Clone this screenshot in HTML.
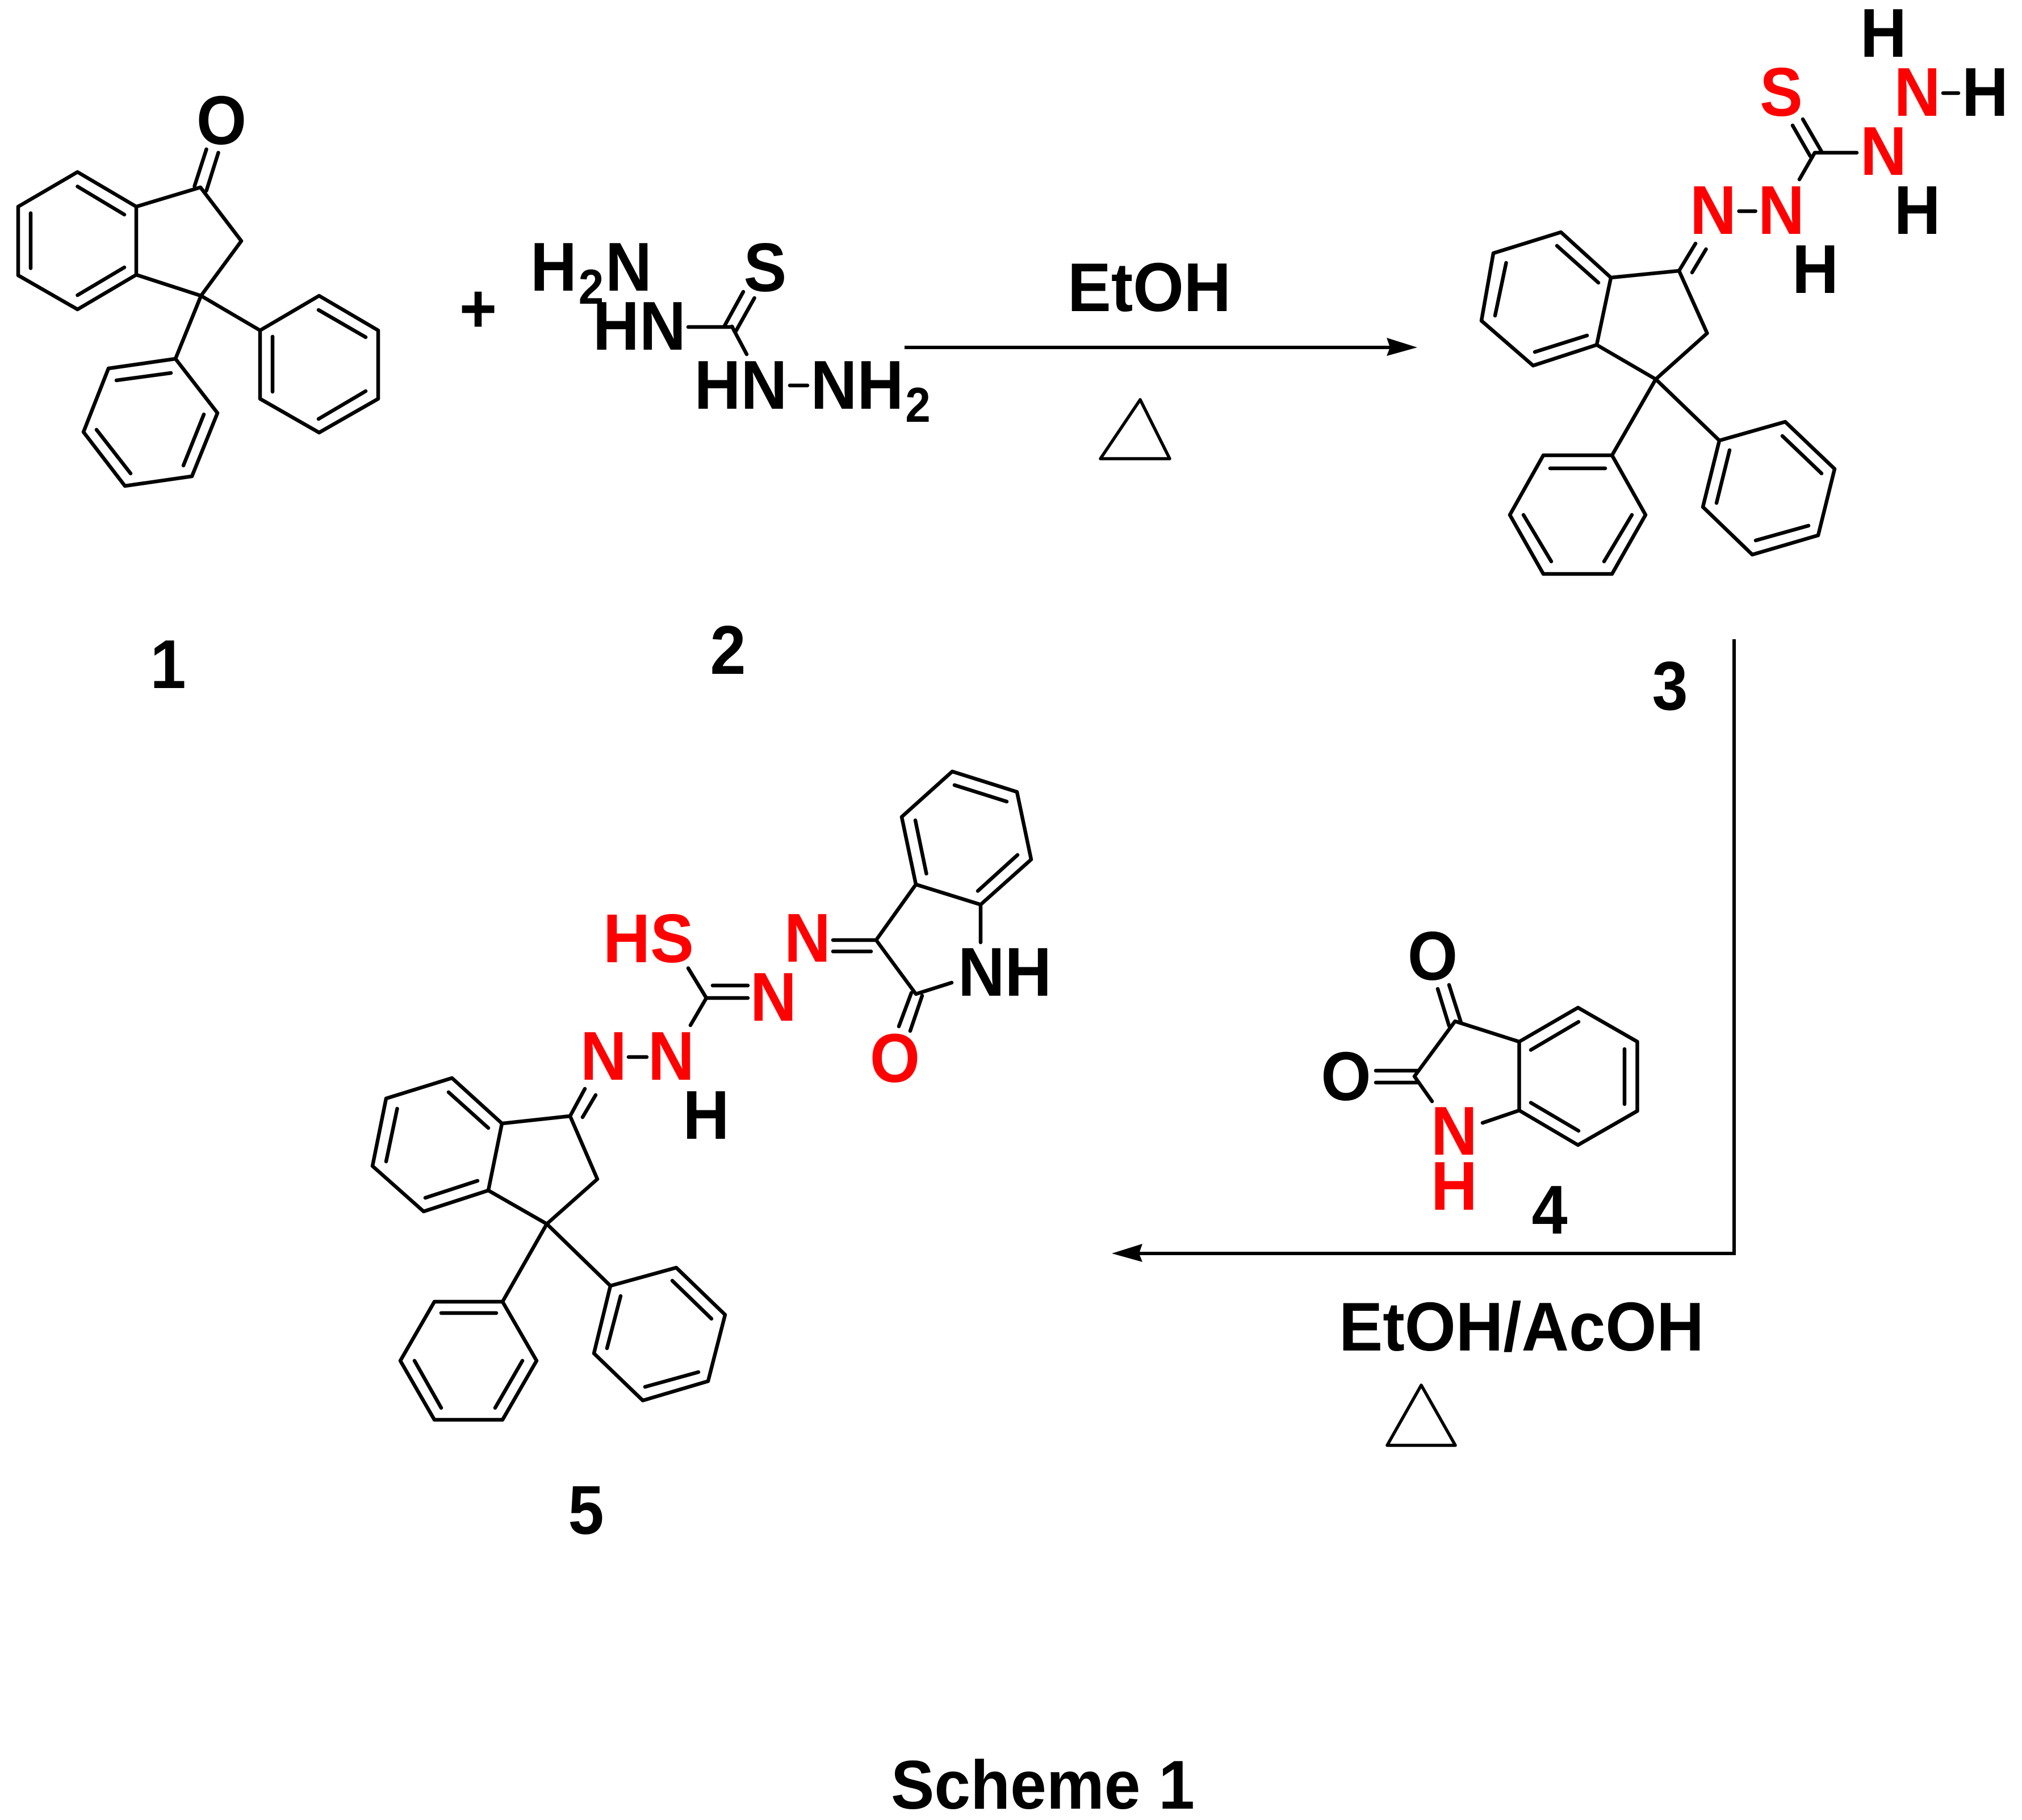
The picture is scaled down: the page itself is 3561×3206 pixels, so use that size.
<!DOCTYPE html>
<html><head><meta charset="utf-8"><title>Scheme 1</title>
<style>
html,body{margin:0;padding:0;background:#fff}
svg{display:block}
text{font-family:"Liberation Sans",Arial,sans-serif;font-weight:bold;font-size:122px;fill:#000}
.m{text-anchor:middle;transform-box:fill-box;transform-origin:center;transform:scaleX(.93)}
.r{fill:#f00}
.s{font-size:86px}
path{fill:none;stroke:#000;stroke-width:6.5;stroke-linecap:round;stroke-linejoin:round}
</style></head><body>
<svg xmlns="http://www.w3.org/2000/svg" width="3561" height="3206" viewBox="0 0 3561 3206">
<rect width="3561" height="3206" fill="#fff"/>

<!-- Compound 1 -->
<path d="M136.5 303L240 364L240 484L136.5 545L32 485L32 364Z M136.5 328.5L219 378 M54 375.5L54 472.5 M136.5 520L219 471
M240 364L353 330L425 424.5L354 521L240 484 M342.5 328L363.5 263 M363.5 336L384.5 269
M354 521L458 582 M354 521L309 632
M458 582L562 521L666 582L666 702.5L562 762L458 702.5Z M561 546L644 594 M480 593L480 690 M561 738L644 689
M309 632L191 649L147 761L220 856L338 839L383 727.5Z M205 670L301 657 M170 757L230 834 M323 820L359 730"/>
<text class="m" x="390" y="254">O</text>
<text class="m" x="842" y="585">+</text>
<text class="m" x="296" y="1212">1</text>

<!-- Compound 2 -->
<path d="M1212 576L1290 576 M1289 575L1315 624 M1276.5 573L1309 514 M1295 585L1328.6 525 M1391 679L1422 679" />
<text class="m" x="975" y="512">H</text><text class="m s" x="1041" y="535">2</text><text class="m" x="1107" y="512">N</text>
<text class="m" x="1347.5" y="513">S</text>
<text class="m" x="1126" y="616">HN</text>
<text class="m" x="1304.5" y="720">HN</text>
<text class="m" x="1509.5" y="720">NH</text><text class="m s" x="1616.5" y="743">2</text>
<text class="m" x="1282" y="1187">2</text>

<!-- Reaction arrow 1 -->
<path d="M1593 612L2450 612" style="stroke-width:6;stroke-linecap:butt"/>
<polygon points="2442,595 2496,612 2442,627 2448,612" fill="#000"/>
<text x="1880" y="548" textLength="288" lengthAdjust="spacingAndGlyphs">EtOH</text>
<path d="M2008 704L1938 808L2060 808Z" style="stroke-width:5.5"/>

<!-- Compound 3 -->
<path d="M2749 409L2837 489L2812 607.5L2700 644L2609 565L2630 446Z M2742 433L2815 498 M2652.5 463L2633 556 M2703 620L2795 591
M2837 489L2957 477L3006.5 587L2916 668L2812 607.5 M2957 477L2986 429 M2980 480L3004.5 439
M2916 668L2839 802 M2916 668L3028 776
M2839 802L2898 907L2839 1011L2718 1011L2659 907L2718 802Z M2730 825L2827 825 M2683 907L2732 989 M2874 907L2825 989
M3028 776L3144 743L3231 826L3202 943L3086 977L2999 893Z M3139 768L3208 834 M3185 926L3092 952 M3046 793L3023 886
M3196 269L3270 269 M3196 269L3169 316 M3188 275L3157 221 M3208 267L3175 210
M3062.6 372L3091.6 372 M3422 164L3449 164"/>
<text class="m" x="3317" y="100">H</text>
<text class="m r" x="3376.6" y="204">N</text>
<text class="m" x="3496" y="204">H</text>
<text class="m r" x="3137" y="204">S</text>
<text class="m r" x="3317" y="308">N</text>
<text class="m" x="3376.6" y="412">H</text>
<text class="m r" x="3017" y="412">N</text>
<text class="m r" x="3137" y="412">N</text>
<text class="m" x="3197" y="516">H</text>
<text class="m" x="2941" y="1250">3</text>

<!-- Reaction arrow 2 -->
<path d="M3054 1126L3054 2208L2005 2208" style="stroke-width:6;stroke-linecap:butt;stroke-linejoin:miter"/>
<polygon points="2012,2191 1958,2208 2012,2223 2006,2208" fill="#000"/>
<text x="2358" y="2379" textLength="643" lengthAdjust="spacingAndGlyphs">EtOH/AcOH</text>
<path d="M2503 2440L2443 2546L2563 2546Z" style="stroke-width:5.5"/>

<!-- Compound 4 -->
<path d="M2779 1775L2883.5 1835L2883.5 1957L2779 2017L2675.5 1956L2675.5 1835Z M2696 1849.5L2780 1800 M2861 1848L2861 1945 M2696 1942.5L2780 1992
M2675.5 1835L2562.5 1799L2491 1896L2522 1940 M2611 1978L2675.5 1956
M2552 1807L2532 1742 M2573 1801L2552 1735 M2423 1886L2496 1886 M2423 1907L2496 1907"/>
<text class="m" x="2523" y="1726">O</text>
<text class="m" x="2370.5" y="1938">O</text>
<text class="m r" x="2561" y="2034">N</text>
<text class="m r" x="2561" y="2131">H</text>
<text class="m" x="2729" y="2173">4</text>

<!-- Compound 5 -->
<path d="M796 1899L884 1979L860 2097L746 2134L656 2054L680 1935Z M790 1924L860 1987 M699.5 1953L680 2046 M749 2110L841 2080
M884 1979L1004 1966L1052 2077L963 2156L860 2097 M1004 1966L1030 1918 M1026 1968L1049 1929
M963 2156L885 2293 M963 2156L1075 2265
M885 2293L945 2397L885 2501L765 2501L705 2397L765 2293Z M777 2313L874 2313 M730 2397L777 2480 M920 2397L872 2480
M1075 2265L1191 2233L1277 2316L1247 2433L1132 2467L1046 2384Z M1184 2256L1253 2323 M1230 2417L1136 2443 M1093 2283L1069 2375
M1107 1862L1139 1862 M1244 1758L1216 1806 M1244 1758L1212 1705.5 M1255 1736L1317 1736 M1244 1758L1317 1758
M1467 1656L1543 1656 M1467 1676L1534 1676
M1543 1656L1613 1558L1727 1593.5L1816 1514L1791 1395L1677 1359L1588 1439L1613 1558 M1681 1383L1773 1412 M1612 1445L1631.5 1539 M1722 1569.5L1792 1506
M1727 1593.5L1727 1660 M1543 1656L1613 1751L1676 1731 M1605 1749L1583 1808 M1624 1754L1603 1816"/>
<text class="r" x="1062" y="1695" textLength="160" lengthAdjust="spacingAndGlyphs">HS</text>
<text class="m r" x="1422" y="1694">N</text>
<text class="m r" x="1362" y="1798">N</text>
<text class="m r" x="1063" y="1902">N</text>
<text class="m r" x="1182" y="1902">N</text>
<text class="m" x="1243.5" y="2006">H</text>
<text x="1687" y="1754" textLength="165" lengthAdjust="spacingAndGlyphs">NH</text>
<text class="m r" x="1576" y="1906">O</text>
<text class="m" x="1032" y="2702">5</text>

<text x="1569" y="3186" textLength="535" lengthAdjust="spacingAndGlyphs">Scheme 1</text>
</svg>
</body></html>
